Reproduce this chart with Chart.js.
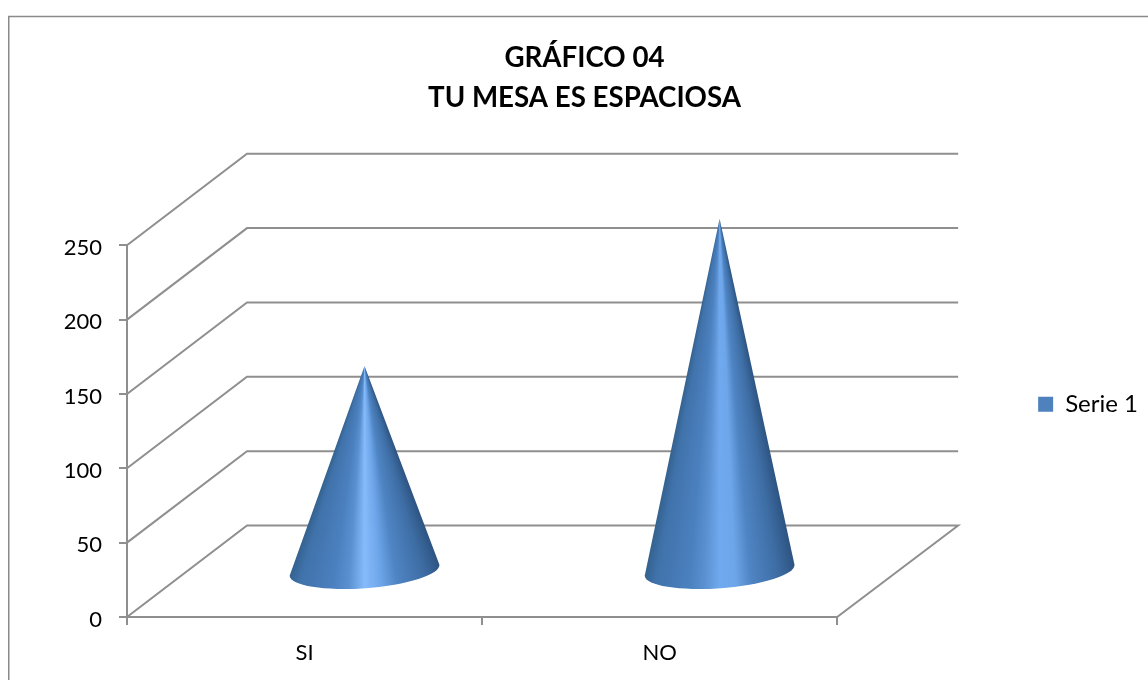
<!DOCTYPE html>
<html>
<head>
<meta charset="utf-8">
<style>
  html, body { margin: 0; padding: 0; background: #fff; }
  canvas { display: block; }
</style>
<script src="https://cdn.jsdelivr.net/npm/chart.js@4"></script>
</head>
<body>
<canvas id="chart" width="1148" height="680"></canvas>
<script>
'use strict';

const categories = ['SI', 'NO'];
const serie1 = [138, 237];
const serieName = 'Serie 1';
const titleLines = ['GRÁFICO 04', 'TU MESA ES ESPACIOSA'];

const lineGrey = '#8f8f8f';
const legendBlue = '#4f81bd';
// shading across a cone, left edge to right edge
const coneStops = [
  [0, '#34628f'], [0.08, '#4072aa'], [0.3, '#4b80bf'], [0.4, '#5a90d0'],
  [0.6, '#6ea6ea'], [0.7, '#4f85c4'], [0.88, '#3e6da4'], [1, '#2d5482']
];
const coneHighlights = ['#86bbfb', '#70a9ef'];
const depthX = 120, depthY = -91.5, sideX = 121;

// back walls and floor, behind the cones
const wallsPlugin = {
  id: 'walls',
  beforeDatasetsDraw(chart) {
    let ctx = chart.ctx;
    let area = chart.chartArea;
    let y = chart.scales.y;
    ctx.save();
    ctx.strokeStyle = lineGrey;
    ctx.lineWidth = 2;
    y.ticks.forEach(t => {
      let py = y.getPixelForValue(t.value);
      ctx.beginPath();
      ctx.moveTo(area.left, py);
      ctx.lineTo(area.left + depthX, py + depthY);
      ctx.lineTo(area.right + sideX, py + depthY);
      if (t.value === 0) ctx.lineTo(area.right, py);
      ctx.stroke();
    });
    ctx.restore();
  }
};

// each bar element is drawn as a cone standing in the middle of the depth
const conePlugin = {
  id: 'cones',
  afterDatasetsDraw(chart) {
    let ctx = chart.ctx;
    chart.getDatasetMeta(0).data.forEach((bar, idx) => {
      let cx = bar.x + depthX / 2;
      let tipY = bar.y + depthY / 2;
      let baseY = bar.base + depthY / 2;
      let rx = bar.width / 2, ry = 18, rot = -0.074;

      let lx = cx - rx * Math.cos(rot), ly = baseY - rx * Math.sin(rot);
      let rX = cx + rx * Math.cos(rot), rY = baseY + rx * Math.sin(rot);
      let angle = t => Math.atan2(ly + (rY - ly) * t - tipY, lx + (rX - lx) * t - cx);
      let start = angle(1) - 0.02;
      let grad = ctx.createConicGradient(start, cx, tipY);
      // the conic gradient runs clockwise, so from the right edge to the left one
      coneStops.forEach(s => {
        grad.addColorStop((angle(s[0]) - start) / (Math.PI * 2), s[1]);
      });
      grad.addColorStop((angle(0.5) - start) / (Math.PI * 2), coneHighlights[idx]);

      ctx.save();
      ctx.beginPath();
      ctx.moveTo(cx, tipY);
      ctx.ellipse(cx, baseY, rx, ry, rot, Math.PI, 0, true);
      ctx.closePath();
      ctx.fillStyle = grad;
      ctx.fill();
      ctx.restore();
    });
  }
};

// outer frame and fine placement of legend
const framePlugin = {
  id: 'frame',
  afterLayout(chart) {
    chart.legend.top += 45;
    chart.legend.bottom += 45;
  },
  beforeDraw(chart) {
    let ctx = chart.ctx;
    ctx.save();
    ctx.fillStyle = '#fff';
    ctx.fillRect(0, 0, chart.width, chart.height);
    ctx.strokeStyle = '#8a8a8a';
    ctx.lineWidth = 1.5;
    ctx.beginPath();
    ctx.moveTo(8.75, chart.height);
    ctx.lineTo(8.75, 16.5);
    ctx.lineTo(chart.width, 16.5);
    ctx.stroke();
    ctx.restore();
  }
};

const canvasElem = document.getElementById('chart');
const labelFont = { family: 'Lato', size: 22 };

const myChart = new Chart(canvasElem, {
  type: 'bar',
  data: {
    labels: categories,
    datasets: [{
      label: serieName,
      data: serie1,
      backgroundColor: 'rgba(0,0,0,0)',
      barPercentage: 0.423,
      categoryPercentage: 1
    }]
  },
  plugins: [framePlugin, wallsPlugin, conePlugin],
  options: {
    responsive: false,
    animation: false,
    layout: { padding: { left: 21, right: 0, top: 38.5, bottom: 0 } },
    scales: {
      x: {
        offset: true,
        grid: { offset: true, drawOnChartArea: false, color: lineGrey, lineWidth: 2, tickLength: 8 },
        border: { color: lineGrey, width: 2 },
        ticks: { color: '#000', font: labelFont, padding: 15, maxRotation: 0 },
        afterFit(s) { s.height = 63; }
      },
      y: {
        min: 0,
        max: 250,
        grid: { drawOnChartArea: false, color: lineGrey, lineWidth: 2, tickLength: 8 },
        border: { color: lineGrey, width: 2 },
        ticks: { color: '#000', font: labelFont, padding: 17, stepSize: 50, labelOffset: 2.5 },
        afterFit(s) { s.width = 106; }
      },
      spacer: {
        axis: 'y',
        position: 'right',
        grid: { display: false },
        border: { display: false },
        ticks: { display: false },
        afterFit(s) { s.width = 189; }
      }
    },
    plugins: {
      tooltip: { enabled: false },
      title: {
        display: true,
        text: titleLines,
        color: '#000',
        font: { family: 'Lato', size: 27.7, weight: 'bold', lineHeight: 1.44 },
        padding: { top: 0, bottom: 127 }
      },
      legend: {
        position: 'right',
        labels: {
          color: '#000',
          font: { family: 'Lato', size: 24 },
          boxWidth: 15,
          boxHeight: 15,
          padding: 12,
          generateLabels: () => [{ text: serieName, fillStyle: legendBlue, strokeStyle: legendBlue, lineWidth: 0, datasetIndex: 0 }]
        }
      }
    }
  }
});
</script>
</body>
</html>
